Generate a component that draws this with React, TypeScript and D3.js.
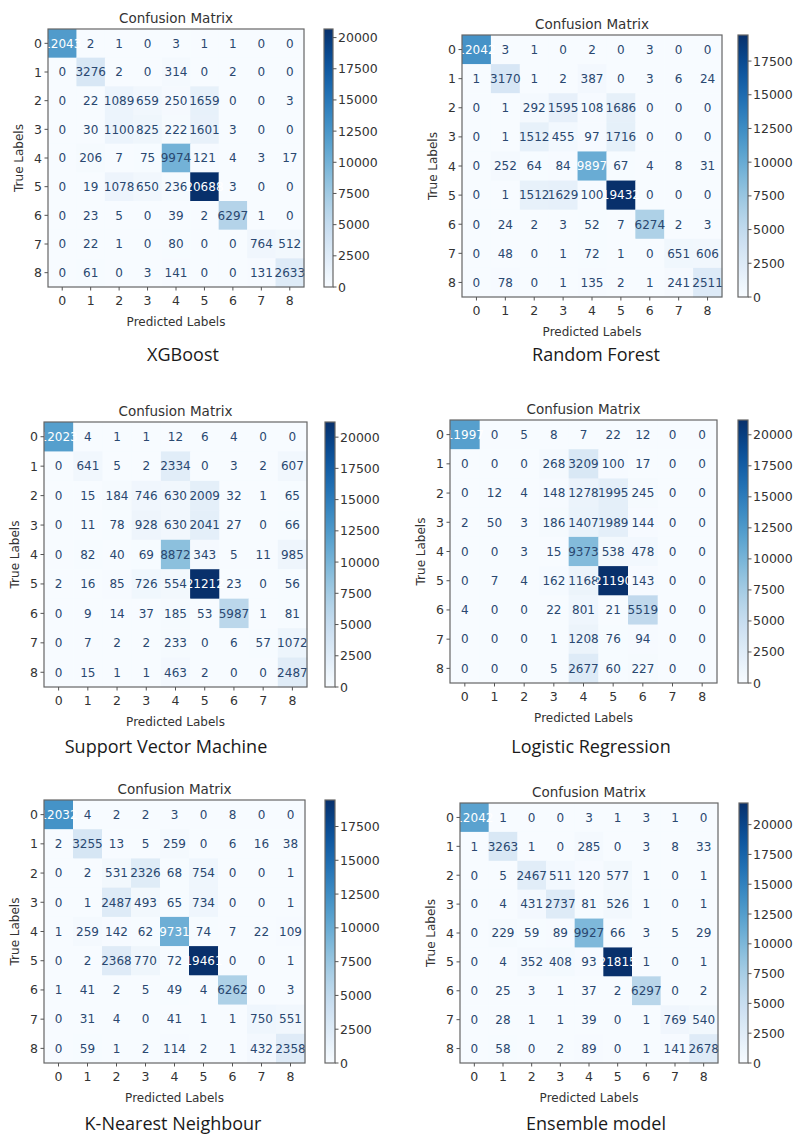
import React from 'react';
import * as d3 from 'd3';

// class labels 0..8
const labels = ['0', '1', '2', '3', '4', '5', '6', '7', '8'];
const cbTickStep = 2500;

const xgboost = [
    [12043, 2, 1, 0, 3, 1, 1, 0, 0],
    [0, 3276, 2, 0, 314, 0, 2, 0, 0],
    [0, 22, 1089, 659, 250, 1659, 0, 0, 3],
    [0, 30, 1100, 825, 222, 1601, 3, 0, 0],
    [0, 206, 7, 75, 9974, 121, 4, 3, 17],
    [0, 19, 1078, 650, 236, 20688, 3, 0, 0],
    [0, 23, 5, 0, 39, 2, 6297, 1, 0],
    [0, 22, 1, 0, 80, 0, 0, 764, 512],
    [0, 61, 0, 3, 141, 0, 0, 131, 2633],
];

const randomForest = [
    [12042, 3, 1, 0, 2, 0, 3, 0, 0],
    [1, 3170, 1, 2, 387, 0, 3, 6, 24],
    [0, 1, 292, 1595, 108, 1686, 0, 0, 0],
    [0, 1, 1512, 455, 97, 1716, 0, 0, 0],
    [0, 252, 64, 84, 9897, 67, 4, 8, 31],
    [0, 1, 1512, 1629, 100, 19432, 0, 0, 0],
    [0, 24, 2, 3, 52, 7, 6274, 2, 3],
    [0, 48, 0, 1, 72, 1, 0, 651, 606],
    [0, 78, 0, 1, 135, 2, 1, 241, 2511],
];

const svm = [
    [12023, 4, 1, 1, 12, 6, 4, 0, 0],
    [0, 641, 5, 2, 2334, 0, 3, 2, 607],
    [0, 15, 184, 746, 630, 2009, 32, 1, 65],
    [0, 11, 78, 928, 630, 2041, 27, 0, 66],
    [0, 82, 40, 69, 8872, 343, 5, 11, 985],
    [2, 16, 85, 726, 554, 21212, 23, 0, 56],
    [0, 9, 14, 37, 185, 53, 5987, 1, 81],
    [0, 7, 2, 2, 233, 0, 6, 57, 1072],
    [0, 15, 1, 1, 463, 2, 0, 0, 2487],
];

const logReg = [
    [11997, 0, 5, 8, 7, 22, 12, 0, 0],
    [0, 0, 0, 268, 3209, 100, 17, 0, 0],
    [0, 12, 4, 148, 1278, 1995, 245, 0, 0],
    [2, 50, 3, 186, 1407, 1989, 144, 0, 0],
    [0, 0, 3, 15, 9373, 538, 478, 0, 0],
    [0, 7, 4, 162, 1168, 21190, 143, 0, 0],
    [4, 0, 0, 22, 801, 21, 5519, 0, 0],
    [0, 0, 0, 1, 1208, 76, 94, 0, 0],
    [0, 0, 0, 5, 2677, 60, 227, 0, 0],
];

const knn = [
    [12032, 4, 2, 2, 3, 0, 8, 0, 0],
    [2, 3255, 13, 5, 259, 0, 6, 16, 38],
    [0, 2, 531, 2326, 68, 754, 0, 0, 1],
    [0, 1, 2487, 493, 65, 734, 0, 0, 1],
    [1, 259, 142, 62, 9731, 74, 7, 22, 109],
    [0, 2, 2368, 770, 72, 19461, 0, 0, 1],
    [1, 41, 2, 5, 49, 4, 6262, 0, 3],
    [0, 31, 4, 0, 41, 1, 1, 750, 551],
    [0, 59, 1, 2, 114, 2, 1, 432, 2358],
];

const ensemble = [
    [12042, 1, 0, 0, 3, 1, 3, 1, 0],
    [1, 3263, 1, 0, 285, 0, 3, 8, 33],
    [0, 5, 2467, 511, 120, 577, 1, 0, 1],
    [0, 4, 431, 2737, 81, 526, 1, 0, 1],
    [0, 229, 59, 89, 9927, 66, 3, 5, 29],
    [0, 4, 352, 408, 93, 21815, 1, 0, 1],
    [0, 25, 3, 1, 37, 2, 6297, 0, 2],
    [0, 28, 1, 1, 39, 0, 1, 769, 540],
    [0, 58, 0, 2, 89, 0, 1, 141, 2678],
];

const mplFont = '"DejaVu Sans", sans-serif';
const textDark = '#333';

// panel placement on the page
const panels = [
    { id: 'xgb', data: xgboost, caption: 'XGBoost', box: [48, 304, 29, 287], cb: [324, 333], cap: [183, 361] },
    { id: 'rf', data: randomForest, caption: 'Random Forest', box: [462, 722, 35, 297], cb: [738, 748], cap: [596, 361] },
    { id: 'svm', data: svm, caption: 'Support Vector Machine', box: [44, 307, 422, 687], cb: [325, 335], cap: [166, 753] },
    { id: 'lr', data: logReg, caption: 'Logistic Regression', box: [450, 717, 420, 683], cb: [738, 748], cap: [591, 753] },
    { id: 'knn', data: knn, caption: 'K-Nearest Neighbour', box: [44, 305, 800, 1063], cb: [325, 335], cap: [173, 1130] },
    { id: 'ens', data: ensemble, caption: 'Ensemble model', box: [460, 718, 803, 1063], cb: [739, 748], cap: [596, 1130] },
];

const Matrix = ({ p }) => {
    const [x0, x1, y0, y1] = p.box;
    const [c0, c1] = p.cb;
    const values = p.data.flat();
    const vmax = d3.max(values);
    const vmin = d3.min(values);
    const color = d3.scaleSequential(d3.interpolateBlues).domain([vmin, vmax]);
    const thresh = (vmax + vmin) / 2;

    const x = d3.scaleBand().domain(labels).range([x0, x1]);
    const y = d3.scaleBand().domain(labels).range([y0, y1]);
    const cbScale = d3.scaleLinear().domain([vmin, vmax]).range([y1, y0]);
    const cbTicks = d3.range(0, vmax + 1, cbTickStep);
    const stops = d3.range(0, 1.0001, 0.05);
    const gradId = `grad-${p.id}`;

    return (
        <g>
            <defs>
                <linearGradient id={gradId} x1="0" y1="1" x2="0" y2="0">
                    {stops.map(t => (
                        <stop key={t} offset={t} stopColor={d3.interpolateBlues(t)} />
                    ))}
                </linearGradient>
            </defs>

            <text x={(x0 + x1) / 2} y={y0 - 6} textAnchor="middle" fontSize={13.5}
                fontFamily={mplFont} fill={textDark}>Confusion Matrix</text>

            {/* cells */}
            {p.data.map((row, i) => row.map((v, j) => (
                <rect key={`c${i}-${j}`} x={x(labels[j])} y={y(labels[i])}
                    width={x.bandwidth() + 0.5} height={y.bandwidth() + 0.5} fill={color(v)} />
            )))}

            {/* cell annotations */}
            {p.data.map((row, i) => row.map((v, j) => (
                <text key={`t${i}-${j}`} x={x(labels[j]) + x.bandwidth() / 2}
                    y={y(labels[i]) + y.bandwidth() / 2} dy="0.36em" textAnchor="middle"
                    fontSize={12} fontFamily={mplFont}
                    fill={v > thresh ? '#ffffff' : '#2a4870'}>{v}</text>
            )))}

            <rect x={x0} y={y0} width={x1 - x0} height={y1 - y0} fill="none" stroke="#666" strokeWidth={1.2} />

            {/* y axis */}
            {labels.map(l => {
                const cy = y(l) + y.bandwidth() / 2;
                return (
                    <g key={`yt${l}`}>
                        <line x1={x0 - 3.5} x2={x0} y1={cy} y2={cy} stroke="#555" />
                        <text x={x0 - 6} y={cy} dy="0.36em" textAnchor="end" fontSize={12.5}
                            fontFamily={mplFont} fill={textDark}>{l}</text>
                    </g>
                );
            })}
            <text transform={`translate(${x0 - 25},${(y0 + y1) / 2}) rotate(-90)`} textAnchor="middle"
                fontSize={12} fontFamily={mplFont} fill={textDark}>True Labels</text>

            {/* x axis */}
            {labels.map(l => {
                const cx = x(l) + x.bandwidth() / 2;
                return (
                    <g key={`xt${l}`}>
                        <line x1={cx} x2={cx} y1={y1} y2={y1 + 3.5} stroke="#555" />
                        <text x={cx} y={y1 + 18} textAnchor="middle" fontSize={12.5}
                            fontFamily={mplFont} fill={textDark}>{l}</text>
                    </g>
                );
            })}
            <text x={(x0 + x1) / 2} y={y1 + 39} textAnchor="middle" fontSize={12}
                fontFamily={mplFont} fill={textDark}>Predicted Labels</text>

            {/* colorbar */}
            <rect x={c0} y={y0} width={c1 - c0} height={y1 - y0} fill={`url(#${gradId})`}
                stroke="#666" strokeWidth={1.2} />
            {cbTicks.map(t => (
                <g key={`cb${t}`}>
                    <line x1={c1} x2={c1 + 3.5} y1={cbScale(t)} y2={cbScale(t)} stroke="#555" />
                    <text x={c1 + 5} y={cbScale(t)} dy="0.36em" fontSize={12.5}
                        fontFamily={mplFont} fill={textDark}>{t}</text>
                </g>
            ))}

            <text x={p.cap[0]} y={p.cap[1]} textAnchor="middle" fontSize={18}
                fontFamily='"Open Sans", sans-serif' fill="#1a1a1a">{p.caption}</text>
        </g>
    );
};

const App = () => (
    <svg width={801} height={1137}
        style={{ position: 'absolute', left: 0, top: 0, background: '#fff', display: 'block' }}>
        <rect width={801} height={1137} fill="#fff" />
        {panels.map(p => <Matrix key={p.id} p={p} />)}
    </svg>
);

export default App;
